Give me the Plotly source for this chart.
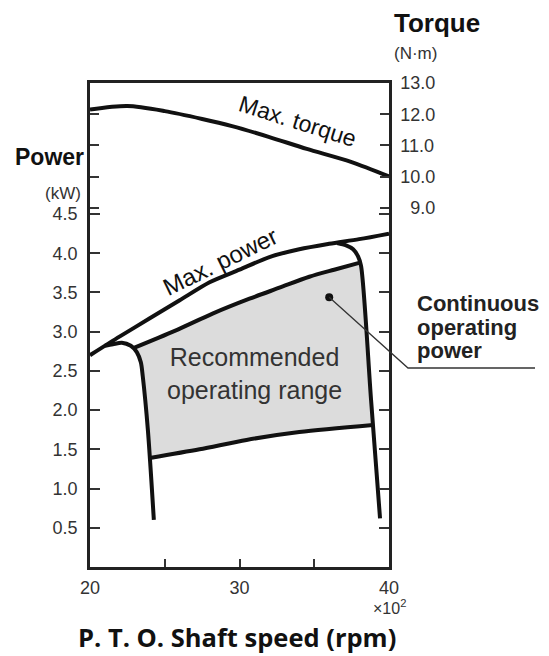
import plotly.graph_objects as go

# ---------------- data (speed in x10^2 rpm) ----------------
torque_speed = [20, 22.5, 25, 27.5, 29.5, 32, 34.5, 37.5, 40]
torque_value = [12.15, 12.26, 12.10, 11.85, 11.62, 11.27, 10.89, 10.47, 10.01]

maxpow_speed = [20, 22, 24, 26, 28, 30, 32, 34, 36, 38, 40]
maxpow_value = [2.70, 2.94, 3.17, 3.40, 3.63, 3.79, 3.95, 4.05, 4.12, 4.18, 4.25]

cont_speed = [22.9, 25.67, 28.2, 30.67, 32.67, 34.67, 36.33, 38.06]
cont_value = [2.79, 3.01, 3.23, 3.42, 3.56, 3.70, 3.79, 3.88]

lower_speed = [24.0, 27.33, 30.47, 34.0, 38.93]
lower_value = [1.39, 1.50, 1.62, 1.72, 1.81]

left_speed = [21.0, 21.53, 22.13, 22.73, 23.13, 23.4, 23.53, 23.87, 24.27]
left_value = [2.82, 2.84, 2.86, 2.82, 2.74, 2.61, 2.43, 1.75, 0.60]

right_speed = [36.53, 37.13, 37.6, 37.93, 38.13, 38.8, 39.4]
right_value = [4.13, 4.10, 4.05, 3.96, 3.84, 2.13, 0.62]

callout_point = (36.0, 3.44)

x_tickvals = [20, 30, 40]
x_ticktext = ["20", "30", "40"]
x_minor_tickvals = [25, 35]
power_tickvals = [0.5, 1.0, 1.5, 2.0, 2.5, 3.0, 3.5, 4.0, 4.5]
power_ticktext = ["0.5", "1.0", "1.5", "2.0", "2.5", "3.0", "3.5", "4.0", "4.5"]
torque_tickvals = [9, 10, 11, 12, 13]
torque_ticktext = ["\u20079.0", "10.0", "11.0", "12.0", "13.0"]

X_RANGE = [20, 40]
P_RANGE = [0, 6.17]
T_RANGE = [-2.49, 13]

# ---------------- figure ----------------
FONT = "Liberation Sans, Arial, sans-serif"
LINE = dict(color="#111111", width=4, shape="spline", smoothing=0.8)

# gray recommended region polygon built from the boundary curves
poly_x = list(cont_speed)
poly_y = list(cont_value)
for s, v in zip(right_speed, right_value):
    if lower_value[-1] < v < cont_value[-1]:
        poly_x.append(s); poly_y.append(v)
poly_x += lower_speed[::-1]
poly_y += lower_value[::-1]
for s, v in reversed(list(zip(left_speed, left_value))):
    if lower_value[0] < v < cont_value[0]:
        poly_x.append(s); poly_y.append(v)
poly_x.append(cont_speed[0]); poly_y.append(cont_value[0])

fig = go.Figure()
fig.add_trace(go.Scatter(x=poly_x, y=poly_y, mode="lines", fill="toself",
                         fillcolor="#dcdcdc", line=dict(width=0), hoverinfo="skip"))
fig.add_trace(go.Scatter(x=maxpow_speed, y=maxpow_value, mode="lines", line=LINE))
fig.add_trace(go.Scatter(x=cont_speed, y=cont_value, mode="lines", line=LINE))
fig.add_trace(go.Scatter(x=lower_speed, y=lower_value, mode="lines", line=LINE))
fig.add_trace(go.Scatter(x=left_speed, y=left_value, mode="lines", line=LINE))
fig.add_trace(go.Scatter(x=right_speed, y=right_value, mode="lines", line=LINE))
fig.add_trace(go.Scatter(x=torque_speed, y=torque_value, mode="lines", line=LINE, yaxis="y2"))
fig.add_trace(go.Scatter(x=[callout_point[0]], y=[callout_point[1]], mode="markers",
                         marker=dict(color="#111111", size=8)))

# page has an 8px body margin: figure is drawn at (8, 8)
OFF = 8
W, H = 541, 648
PL, PR, PT, PB = 90, 389, 83, 567        # plot box in screenshot pixels
L, T = PL - OFF, PT - OFF
R, B = W - (PR - OFF), H - (PB - OFF)
PW, PH = PR - PL, PB - PT

def px(x):
    return (x - PL) / PW

def py(y):
    return (PB - y) / PH

axis_common = dict(showgrid=False, zeroline=False, showline=True, linecolor="#222222",
                   linewidth=2.5, ticks="inside", tickwidth=2, tickcolor="#333333",
                   tickfont=dict(family=FONT, size=18, color="#333333"))

fig.update_layout(
    width=W, height=H, showlegend=False,
    margin=dict(l=L, r=R, t=T, b=B),
    paper_bgcolor="white", plot_bgcolor="white",
    xaxis=dict(range=X_RANGE, tickmode="array", tickvals=x_tickvals, ticktext=x_ticktext,
               ticklen=8, mirror=True, ticklabelstandoff=3,
               minor=dict(tickmode="array", tickvals=x_minor_tickvals, ticks="inside",
                          ticklen=8, tickwidth=2, tickcolor="#333333", showgrid=False),
               **axis_common),
    yaxis=dict(range=P_RANGE, tickmode="array", tickvals=power_tickvals, ticktext=power_ticktext,
               ticklen=10, mirror="allticks", ticklabelstandoff=6, **axis_common),
    yaxis2=dict(range=T_RANGE, tickmode="array", tickvals=torque_tickvals, ticktext=torque_ticktext,
                overlaying="y", side="right", ticklen=9, mirror="allticks",
                ticklabelstandoff=5, **axis_common),
)

# callout leader line (paper coords)
cx = (callout_point[0] - X_RANGE[0]) / (X_RANGE[1] - X_RANGE[0])
cy = (callout_point[1] - P_RANGE[0]) / (P_RANGE[1] - P_RANGE[0])
fig.add_shape(type="path", xref="paper", yref="paper",
              path=f"M {cx} {cy} L {px(408)} {py(368)} L {px(535)} {py(368)}",
              line=dict(color="#333333", width=1.3))

def ann(text, x, y, size, bold=False, xanchor="center", angle=0, color="#222222", family=FONT):
    fig.add_annotation(text=f"<b>{text}</b>" if bold else text, xref="paper", yref="paper",
                       x=px(x), y=py(y), xanchor=xanchor, yanchor="middle", showarrow=False,
                       textangle=angle, font=dict(family=family, size=size, color=color))

ann("Power", 86, 157, 23, bold=True, xanchor="right", color="#111111")
ann("(kW)", 83, 193, 17, xanchor="right", color="#333333")
ann("Torque", 437, 23, 26, bold=True, color="#111111")
ann("(N·m)", 415, 53, 17, color="#333333")
ann("×10<sup>2</sup>", 408, 607, 16, xanchor="right", color="#333333")
ann("P. T. O. Shaft speed (rpm)", 237, 637, 25.5, bold=True, color="#111111",
    family="Open Sans, Lato, sans-serif")
ann("Recommended<br>operating range", 254, 373, 25, color="#333333")
ann("Continuous", 415, 303, 22, bold=True, xanchor="left", color="#222222")
ann("operating", 415, 327, 22, bold=True, xanchor="left", color="#222222")
ann("power", 415, 350, 22, bold=True, xanchor="left", color="#222222")
ann("Max. torque", 297, 121, 23, angle=17.5, color="#111111")
ann("Max. power", 220, 261, 24, angle=-26, color="#111111")

fig.write_html("out.html")
